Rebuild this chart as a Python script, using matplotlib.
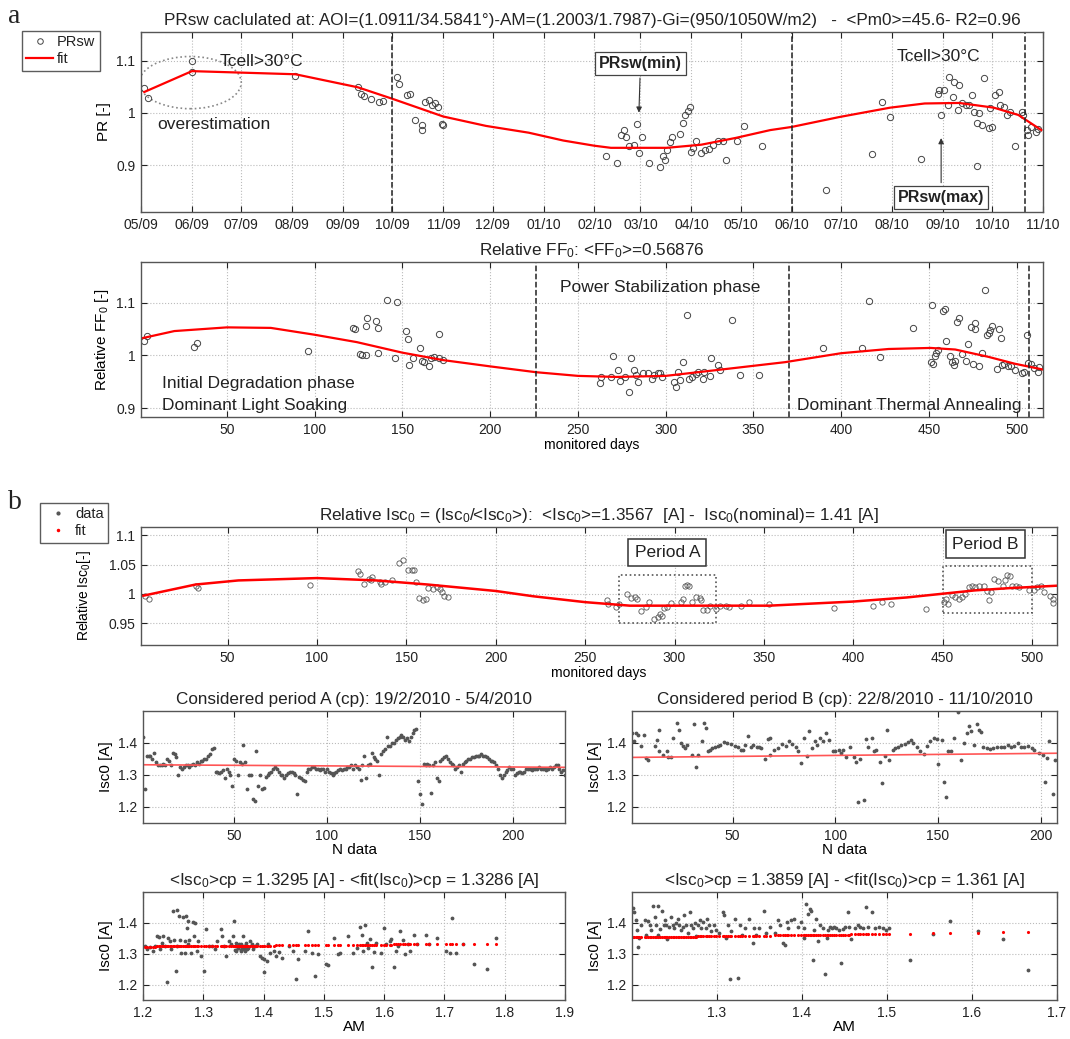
import numpy as np
import matplotlib
matplotlib.use("Agg")
import matplotlib.pyplot as plt
import matplotlib.dates as mdates
from matplotlib.patches import Ellipse, Rectangle
from matplotlib.lines import Line2D
from matplotlib.ticker import FuncFormatter

plt.rcParams['font.family'] = ['Liberation Sans', 'DejaVu Sans']
plt.rcParams['mathtext.fontset'] = 'custom'
plt.rcParams['mathtext.rm'] = 'Liberation Sans'
plt.rcParams['mathtext.it'] = 'Liberation Sans:italic'
plt.rcParams['mathtext.bf'] = 'Liberation Sans:bold'
plt.rcParams['text.color'] = '#222222'

# ---------------- panel a, top: PRsw vs date (days since 1 May 2009) ----------------
pr_days = [2, 4, 31, 31, 94, 132, 134, 136, 140, 145, 147, 156, 157, 162, 164, 167, 171, 171,
           173, 175, 177, 179, 181, 183, 184,
           283, 290, 292, 294, 295, 297, 300, 302, 303, 305, 309, 316, 318, 319, 320, 322, 323,
           328, 330, 331, 333, 334, 335, 336, 338, 341, 343, 346, 348, 351, 354, 356, 363, 367,
           378, 417, 445, 451, 456, 475, 485, 486, 487, 489, 491, 492, 494, 495, 497, 498, 500,
           502, 504, 506, 507, 509, 509, 510, 512, 513, 516, 517, 518, 520, 522, 523, 525, 527,
           529, 532, 536, 537, 539, 540, 542, 545, 546]
pr_vals = [1.048, 1.028, 1.099, 1.079, 1.071, 1.050, 1.037, 1.032, 1.026, 1.021, 1.022, 1.069,
           1.056, 1.034, 1.037, 0.986, 0.976, 0.967, 1.021, 1.024, 1.015, 1.018, 1.012, 0.979, 0.976,
           0.917, 0.904, 0.958, 0.967, 0.954, 0.936, 0.939, 0.978, 0.924, 0.954, 0.904, 0.896, 0.917,
           0.909, 0.928, 0.944, 0.954, 0.960, 0.981, 0.996, 1.003, 1.012, 0.925, 0.933, 0.946, 0.924,
           0.928, 0.931, 0.938, 0.946, 0.947, 0.909, 0.946, 0.974, 0.936, 0.853, 0.921, 1.021, 0.992,
           0.911, 1.037, 1.044, 0.996, 1.044, 1.015, 1.069, 1.031, 1.060, 1.005, 1.053, 1.018, 1.015,
           1.015, 1.034, 1.002, 0.981, 0.899, 0.999, 0.976, 1.066, 0.971, 1.010, 0.973, 1.035, 1.040,
           1.015, 1.012, 0.996, 1.002, 0.936, 1.002, 0.996, 0.967, 0.957, 0.973, 0.963, 0.970]
pr_fit_days = [2, 31, 94, 132, 153, 184, 210, 236, 257, 276, 286, 320, 341, 362, 383, 396, 425,
               456, 477, 498, 519, 534, 548]
pr_fit_vals = [1.040, 1.080, 1.074, 1.049, 1.027, 0.993, 0.975, 0.962, 0.947, 0.937, 0.933, 0.933,
               0.939, 0.952, 0.967, 0.973, 0.992, 1.010, 1.018, 1.019, 1.010, 0.996, 0.967]
pr_phase_days = [153, 396, 538]

# ---------------- panel a, bottom: relative FF0 vs monitored days ----------------
ff_days = [2.5, 4.5, 31, 33, 96,
           122, 123, 126, 127, 129, 129, 130, 135, 136, 136, 141, 146, 147, 152, 153, 154, 156,
           160, 161, 162, 165, 166, 168, 171, 171, 173,
           262.5, 263, 268.6, 270, 273, 274, 277, 279, 280, 282, 283, 284, 287, 290, 292, 293.5,
           295.5, 297, 298, 305, 305.7, 307, 308, 310, 312, 313, 315, 317, 318.6, 321, 322, 325,
           326, 330, 331, 338, 342.5, 353,
           389.5, 412, 416, 422, 441, 451, 452, 452.5, 453.5, 454, 455, 458, 459, 460, 462, 463,
           464, 465, 466, 467, 469, 471, 472.5, 474, 475, 476, 476, 478.5, 480, 482, 483, 484,
           485, 486, 489, 490, 491, 491.5, 493, 495, 497, 499, 503, 504, 506, 506.5, 508, 510,
           512, 513]
ff_vals = [1.028, 1.036, 1.015, 1.024, 1.008,
           1.051, 1.050, 1.003, 1.001, 1.001, 1.055, 1.071, 1.066, 1.051, 1.004, 1.104, 0.994,
           1.102, 1.046, 1.030, 0.982, 0.995, 1.013, 0.989, 0.988, 0.980, 0.995, 0.996, 1.041,
           0.995, 0.992,
           0.948, 0.958, 0.958, 0.999, 0.972, 0.952, 0.958, 0.930, 0.995, 0.972, 0.963, 0.950,
           0.966, 0.966, 0.956, 0.963, 0.966, 0.966, 0.958, 0.950, 0.940, 0.969, 0.953, 0.987,
           1.077, 0.956, 0.958, 0.964, 0.969, 0.955, 0.969, 0.960, 0.995, 0.982, 0.972, 1.067,
           0.962, 0.963,
           1.014, 1.014, 1.103, 0.996, 1.052, 0.987, 1.095, 0.984, 0.998, 1.004, 1.011, 1.084,
           1.087, 1.027, 0.998, 0.987, 0.982, 0.990, 1.063, 1.070, 1.003, 0.989, 1.022, 1.054,
           0.984, 1.062, 1.049, 0.980, 1.004, 1.124, 1.038, 1.043, 1.048, 1.055, 0.974, 1.050,
           1.032, 0.982, 0.984, 0.979, 0.979, 0.973, 0.966, 0.968, 1.039, 0.985, 0.984, 0.976,
           0.969, 0.977]
ff_fit_days = [1, 20, 50, 75, 100, 124, 150, 173, 200, 226, 250, 272, 300, 329, 368, 400, 427,
               451, 465, 484, 499, 515]
ff_fit_vals = [1.032, 1.046, 1.053, 1.052, 1.039, 1.025, 1.005, 0.991, 0.979, 0.968, 0.961, 0.959,
               0.961, 0.972, 0.987, 1.004, 1.012, 1.014, 1.011, 0.997, 0.984, 0.973]
ff_phase_days = [226, 370, 507]

# ---------------- panel b, top: relative Isc0 vs monitored days ----------------
isc_days = [4, 5.7, 32, 33.6, 96, 123, 124, 126, 129, 130, 131, 135, 136, 138, 142, 146, 148,
            151, 153, 154, 155.6, 157, 159, 161, 162, 165, 167, 169, 170, 171, 173,
            262, 263, 267, 269, 273.5, 275.5, 278, 279, 281, 284, 285.5, 288.6, 290.5, 292, 293,
            294, 296, 298, 303.5, 305, 306, 307, 308, 310, 312, 314, 315, 316, 318, 320, 323,
            325.7, 328.6, 330.5, 337, 341.7, 352.7, 389, 411, 416, 421, 440.5,
            451, 452, 453, 455.5, 457, 459, 460.6, 462.7, 464.7, 466.6, 468, 470.5, 473, 475,
            476, 477, 479, 481, 483.6, 485, 486, 487.5, 489, 491, 492.7, 498.5, 501, 503, 505,
            507, 510, 512, 512]
isc_vals = [0.997, 0.991, 1.014, 1.010, 1.015, 1.039, 1.034, 1.017, 1.026, 1.023, 1.029, 1.020,
            1.017, 1.020, 1.024, 1.053, 1.057, 1.041, 1.041, 1.041, 1.021, 0.993, 0.989, 0.991,
            1.010, 1.009, 1.011, 1.009, 1.003, 0.997, 0.994,
            0.990, 0.982, 0.978, 0.982, 1.000, 0.993, 0.995, 0.991, 0.971, 0.978, 0.986, 0.957,
            0.960, 0.965, 0.962, 0.976, 0.978, 0.984, 0.987, 0.991, 1.013, 1.015, 1.014, 0.986,
            0.994, 0.993, 0.989, 0.973, 0.973, 0.980, 0.974, 0.980, 0.980, 0.978, 0.980, 0.987,
            0.982, 0.976, 0.980, 0.986, 0.983, 0.974,
            0.986, 0.991, 0.982, 0.999, 0.994, 0.991, 0.995, 1.000, 1.011, 1.013, 1.011, 1.014,
            1.014, 1.005, 0.989, 1.003, 1.026, 1.022, 1.014, 1.023, 1.033, 1.031, 1.014, 1.014,
            1.011, 1.006, 1.007, 1.011, 1.014, 1.003, 0.997, 0.991, 0.984]
isc_fit_days = [2.8, 32, 56, 100, 133, 162, 200, 221, 250, 275, 300, 326, 353, 400, 430, 449,
                468, 488, 514]
isc_fit_vals = [0.997, 1.016, 1.023, 1.027, 1.023, 1.016, 1.005, 0.996, 0.986, 0.980, 0.980, 0.980,
                0.980, 0.987, 0.994, 1.000, 1.006, 1.010, 1.014]
period_a_days = (269, 323)
period_a_range = (0.951, 1.033)
period_b_days = (450, 500)
period_b_range = (0.967, 1.047)

# ---------------- panel b, middle: Isc0 samples inside each period ----------------
isc_a = [1.42, 1.255,
         1.36, 1.36, 1.36, 1.35, 1.37,
         1.34, 1.33, 1.33, 1.33, 1.335,
         1.33, 1.35, 1.345, 1.33,
         1.37, 1.365, 1.355,
         1.30, 1.325, 1.32,
         1.325, 1.33, 1.33, 1.325, 1.33, 1.335, 1.33, 1.34, 1.335, 1.345, 1.345, 1.35, 1.35,
         1.36, 1.365, 1.38, 1.385,
         1.31, 1.31, 1.305, 1.31, 1.315, 1.29,
         1.32, 1.31, 1.30, 1.265, 1.35,
         1.345, 1.30, 1.34, 1.335, 1.395,
         1.34, 1.255, 1.30, 1.30, 1.225,
         1.22, 1.375, 1.265, 1.30, 1.255,
         1.26, 1.295, 1.30, 1.305, 1.31,
         1.32, 1.325, 1.32, 1.31, 1.30, 1.30, 1.29, 1.30, 1.305, 1.31,
         1.31, 1.305, 1.30, 1.24, 1.295, 1.29, 1.285, 1.28, 1.31, 1.32,
         1.32, 1.325, 1.325, 1.32, 1.32, 1.315, 1.32, 1.32, 1.31, 1.32,
         1.31, 1.305, 1.30, 1.305, 1.31, 1.315, 1.32, 1.315, 1.32, 1.32,
         1.325, 1.325, 1.33, 1.32, 1.33, 1.325, 1.32, 1.285, 1.33, 1.36,
         1.29, 1.33, 1.335, 1.37, 1.355, 1.35, 1.345, 1.30, 1.365, 1.375,
         1.38, 1.42, 1.39, 1.39, 1.40, 1.40, 1.41, 1.415, 1.42, 1.425,
         1.42, 1.41, 1.415, 1.405, 1.42, 1.43, 1.44, 1.445, 1.28, 1.24,
         1.21, 1.335, 1.33, 1.335, 1.33, 1.245, 1.33, 1.34, 1.29, 1.28,
         1.345, 1.35, 1.355, 1.36, 1.35, 1.34, 1.335, 1.33, 1.32, 1.325,
         1.33, 1.31, 1.335, 1.34, 1.345, 1.35, 1.35, 1.355, 1.355, 1.36,
         1.36, 1.36, 1.365, 1.36, 1.36, 1.355, 1.35, 1.345, 1.345, 1.34,
         1.33, 1.32, 1.30, 1.29, 1.30, 1.31, 1.315, 1.325, 1.32, 1.32,
         1.30, 1.305, 1.31, 1.31, 1.305, 1.31, 1.32, 1.32, 1.32, 1.315,
         1.32, 1.32, 1.32, 1.325, 1.32, 1.32, 1.32, 1.315, 1.32, 1.325,
         1.32, 1.325, 1.33, 1.33, 1.32, 1.31, 1.315, 1.30]
fit_a_ends = (1.332, 1.324)

idx_b = [1, 2, 3, 4, 5.4, 7, 8, 9, 12, 13, 14, 14, 16, 18, 18.7, 20, 21, 23, 24, 25, 26, 27, 28,
         30, 31, 32, 33, 35, 36, 37, 38, 39, 40, 41.6, 43, 44, 46, 47.5, 49, 51, 52.5, 54, 55, 56,
         57.5, 59, 60, 62, 63, 64, 66, 67, 68, 68.4, 70.4, 72, 74, 76, 77.6, 79, 81, 82, 83.5, 85,
         86, 87, 88.5, 90, 91, 92.7, 94, 95.6, 97, 99, 100, 101.6, 103, 104, 105, 107, 109, 110,
         111, 112, 114, 115, 116, 118, 118.7, 120, 122, 123, 124, 125, 126, 128, 129, 130.4, 132,
         134, 135.4, 136.8, 138, 139.6, 141.3, 143, 144.6, 146.3, 148, 149.7, 150, 151.8, 153, 154,
         154.7, 156.4, 158, 159.7, 161, 162.6, 164, 165, 166, 167.6, 169, 170, 171, 172, 174,
         175.6, 177, 179, 180.6, 182, 184, 185.7, 187, 189, 190.7, 192, 194, 195.7, 197, 199, 201,
         202, 203, 204, 206, 207]
isc_b = [1.43, 1.405, 1.43, 1.426, 1.39, 1.426, 1.353, 1.347, 1.39, 1.41, 1.44, 1.374, 1.363,
         1.374, 1.356, 1.356, 1.416, 1.463, 1.442, 1.40, 1.39, 1.384, 1.395, 1.363, 1.458, 1.324,
         1.363, 1.405, 1.463, 1.447, 1.376, 1.379, 1.384, 1.387, 1.392, 1.395, 1.402, 1.40, 1.398,
         1.392, 1.387, 1.379, 1.379, 1.395, 1.423, 1.389, 1.395, 1.389, 1.387, 1.384, 1.349,
         1.413, 1.416, 1.363, 1.379, 1.384, 1.398, 1.392, 1.405, 1.398, 1.389, 1.374, 1.337,
         1.416, 1.36, 1.437, 1.384, 1.405, 1.395, 1.416, 1.405, 1.432, 1.41, 1.374, 1.376, 1.377,
         1.368, 1.379, 1.356, 1.387, 1.356, 1.342, 1.216, 1.349, 1.221, 1.413, 1.389, 1.416,
         1.374, 1.377, 1.342, 1.274, 1.36, 1.442, 1.347, 1.379, 1.384, 1.389, 1.395, 1.398,
         1.402, 1.408, 1.40, 1.387, 1.374, 1.366, 1.392, 1.405, 1.416, 1.413, 1.334, 1.41, 1.279,
         1.232, 1.374, 1.374, 1.416, 1.498, 1.347, 1.40, 1.432, 1.453, 1.437, 1.395, 1.458,
         1.442, 1.434, 1.389, 1.384, 1.381, 1.384, 1.387, 1.389, 1.389, 1.395, 1.387, 1.392,
         1.40, 1.389, 1.387, 1.392, 1.384, 1.379, 1.37, 1.363, 1.279, 1.353, 1.405, 1.242, 1.347]
fit_b_ends = (1.355, 1.368)

# ---------------- panel b, bottom: Isc0 vs air mass ----------------
am_a = [1.203, 1.206, 1.211, 1.217, 1.22, 1.223, 1.226, 1.229, 1.231, 1.234, 1.236, 1.24, 1.241,
        1.245, 1.247, 1.249, 1.251, 1.254, 1.256, 1.257, 1.26, 1.262, 1.263, 1.266, 1.269, 1.27,
        1.271, 1.273, 1.274, 1.275, 1.277, 1.28, 1.283, 1.285, 1.287, 1.289, 1.291, 1.297, 1.301,
        1.304, 1.309, 1.314, 1.319, 1.323, 1.329, 1.331, 1.334, 1.337, 1.342, 1.346, 1.349, 1.351,
        1.354, 1.357, 1.36, 1.363, 1.366, 1.367, 1.369, 1.371, 1.374, 1.377, 1.38, 1.383, 1.386,
        1.389, 1.394, 1.397, 1.4, 1.401, 1.405, 1.407, 1.411, 1.417, 1.42, 1.426, 1.431, 1.443,
        1.449, 1.454, 1.457, 1.469, 1.473, 1.48, 1.486, 1.491, 1.503, 1.507, 1.517, 1.523, 1.526,
        1.54, 1.549, 1.555, 1.56, 1.563, 1.565, 1.569, 1.571, 1.574, 1.577, 1.58, 1.583, 1.586,
        1.594, 1.599, 1.603, 1.609, 1.611, 1.616, 1.62, 1.623, 1.627, 1.631, 1.635, 1.639, 1.643,
        1.649, 1.654, 1.669, 1.674, 1.687, 1.703, 1.709, 1.713, 1.719, 1.731, 1.749, 1.771, 1.786,
        1.36, 1.363, 1.369, 1.354, 1.367, 1.352, 1.358, 1.362, 1.365, 1.372]
isc_am_a = [1.324, 1.314, 1.322, 1.308, 1.324, 1.356, 1.353, 1.314, 1.335, 1.356, 1.324, 1.208,
            1.351, 1.34, 1.314, 1.438, 1.346, 1.245, 1.441, 1.324, 1.422, 1.346, 1.303, 1.42, 1.34,
            1.303, 1.422, 1.383, 1.33, 1.407, 1.346, 1.303, 1.404, 1.359, 1.398, 1.308, 1.34,
            1.293, 1.245, 1.379, 1.326, 1.324, 1.314, 1.34, 1.379, 1.356, 1.324, 1.293, 1.34,
            1.33, 1.356, 1.406, 1.335, 1.319, 1.33, 1.312, 1.356, 1.324, 1.308, 1.335, 1.319,
            1.34, 1.33, 1.314, 1.326, 1.333, 1.293, 1.287, 1.282, 1.24, 1.277, 1.33, 1.303, 1.308,
            1.293, 1.305, 1.287, 1.324, 1.308, 1.219, 1.282, 1.308, 1.375, 1.301, 1.229, 1.298,
            1.266, 1.263, 1.351, 1.298, 1.303, 1.356, 1.303, 1.319, 1.388, 1.361, 1.308, 1.393,
            1.335, 1.319, 1.348, 1.256, 1.305, 1.335, 1.303, 1.383, 1.33, 1.34, 1.348, 1.256,
            1.308, 1.324, 1.375, 1.346, 1.298, 1.33, 1.308, 1.361, 1.333, 1.361, 1.33, 1.351,
            1.308, 1.301, 1.416, 1.301, 1.33, 1.266, 1.252, 1.351,
            1.324, 1.33, 1.326, 1.308, 1.316, 1.312, 1.318, 1.31, 1.322, 1.315]
fit_am_a = ((1.2, 1.323), (1.8, 1.333))

am_b = [1.201, 1.203, 1.205, 1.206, 1.207, 1.209, 1.211, 1.215, 1.217, 1.219, 1.221, 1.223,
        1.225, 1.227, 1.229, 1.231, 1.231, 1.233, 1.235, 1.238, 1.239, 1.24, 1.242, 1.244, 1.246,
        1.248, 1.25, 1.252, 1.254, 1.256, 1.258, 1.26, 1.262, 1.264, 1.266, 1.268, 1.27, 1.272,
        1.274, 1.276, 1.278, 1.28, 1.282, 1.284, 1.287, 1.289, 1.291, 1.293, 1.297, 1.299, 1.303,
        1.307, 1.309, 1.311, 1.313, 1.316, 1.317, 1.321, 1.325, 1.327, 1.33, 1.333, 1.338, 1.342,
        1.344, 1.346, 1.35, 1.356, 1.358, 1.362, 1.368, 1.372, 1.374, 1.378, 1.38, 1.382, 1.384,
        1.387, 1.391, 1.395, 1.399, 1.402, 1.403, 1.405, 1.407, 1.409, 1.411, 1.413, 1.414, 1.417,
        1.419, 1.421, 1.425, 1.427, 1.429, 1.431, 1.433, 1.436, 1.438, 1.44, 1.444, 1.446, 1.448,
        1.451, 1.454, 1.456, 1.458, 1.462, 1.466, 1.468, 1.472, 1.476, 1.478, 1.482, 1.486, 1.491,
        1.495, 1.499, 1.503, 1.527, 1.554, 1.574, 1.607, 1.636, 1.666]
isc_am_b = [1.447, 1.435, 1.409, 1.378, 1.323, 1.352, 1.393, 1.409, 1.362, 1.406, 1.393, 1.378,
            1.455, 1.419, 1.393, 1.455, 1.36, 1.381, 1.44, 1.393, 1.409, 1.393, 1.347, 1.388,
            1.419, 1.393, 1.383, 1.398, 1.414, 1.393, 1.378, 1.388, 1.424, 1.393, 1.367, 1.435,
            1.393, 1.383, 1.398, 1.357, 1.393, 1.409, 1.383, 1.404, 1.383, 1.414, 1.393, 1.373,
            1.393, 1.378, 1.367, 1.435, 1.424, 1.352, 1.393, 1.217, 1.373, 1.414, 1.222, 1.393,
            1.362, 1.383, 1.414, 1.336, 1.383, 1.362, 1.383, 1.44, 1.367, 1.388, 1.367, 1.409,
            1.393, 1.336, 1.329, 1.404, 1.383, 1.409, 1.414, 1.388, 1.404, 1.352, 1.383, 1.461,
            1.43, 1.445, 1.44, 1.279, 1.378, 1.414, 1.341, 1.393, 1.383, 1.233, 1.352, 1.378,
            1.388, 1.383, 1.388, 1.383, 1.378, 1.269, 1.381, 1.388, 1.435, 1.388, 1.347, 1.383,
            1.393, 1.388, 1.383, 1.45, 1.385, 1.435, 1.383, 1.388, 1.383, 1.378, 1.383, 1.279,
            1.364, 1.406, 1.375, 1.347, 1.246]
fit_am_b = ((1.2, 1.353), (1.67, 1.37))

PT_COLOR = '#555555'
FIG_W, FIG_H = 1070, 1039
TITLE_FS = 12.3
ANNOT_FS = 12.5


def px_axes(fig, left, top, right, bottom):
    return fig.add_axes([left / FIG_W, 1 - bottom / FIG_H,
                         (right - left) / FIG_W, (bottom - top) / FIG_H])


def style(ax, fmt_y=True):
    ax.grid(True, ls=':', color='#bbbbbb', lw=0.8)
    ax.set_axisbelow(True)
    ax.tick_params(direction='in', top=True, right=True, length=4, width=0.8,
                   labelsize=10, colors='#222222', pad=4)
    for s in ax.spines.values():
        s.set_color('#555555')
        s.set_linewidth(1.0)
    if fmt_y:
        ax.yaxis.set_major_formatter(FuncFormatter(lambda v, p: f'{v:g}'))


def line_on(xs, ends):
    # straight fit line evaluated at given abscissae
    (x0, y0), (x1, y1) = ends
    xs = np.asarray(xs, dtype=float)
    return y0 + (y1 - y0) * (xs - x0) / (x1 - x0)


fig = plt.figure(figsize=(FIG_W / 100, FIG_H / 100), dpi=100)

# ---------- a1: PRsw ----------
base = mdates.date2num(np.datetime64('2009-05-01'))
ax = px_axes(fig, 141, 32, 1043, 212)
style(ax)
ax.plot(base + np.array(pr_days), pr_vals, 'o', ms=4.5, mfc='none', mec='#444444', mew=0.7)
ax.plot(base + np.array(pr_fit_days), pr_fit_vals, '-', color='red', lw=1.6)
for d in pr_phase_days:
    ax.axvline(base + d, color='#222222', ls='--', lw=1.1)
ax.set_xlim(base, mdates.date2num(np.datetime64('2010-11-01')))
ax.set_ylim(0.81, 1.155)
ax.set_yticks([0.9, 1.0, 1.1])
ax.xaxis.set_major_locator(mdates.MonthLocator())
ax.xaxis.set_major_formatter(mdates.DateFormatter('%m/%y'))
ax.set_ylabel('PR [-]', fontsize=11)
ax.set_title('PRsw caclulated at: AOI=(1.0911/34.5841°)-AM=(1.2003/1.7987)-Gi=(950/1050W/m2)'
             '   -  <Pm0>=45.6- R2=0.96', fontsize=TITLE_FS, pad=5)
ax.add_patch(Ellipse((base + 30, 1.058), 62, 0.10, fill=False, ls=':', ec='#888888', lw=1.2))
ax.text(base + 48, 1.099, 'Tcell>30°C', fontsize=ANNOT_FS, va='center')
ax.text(base + 10, 0.977, 'overestimation', fontsize=ANNOT_FS, va='center')
ax.text(base + 460, 1.108, 'Tcell>30°C', fontsize=ANNOT_FS, va='center')
box = dict(boxstyle='square,pad=0.25', fc='white', ec='#444444', lw=0.9)
arrow = dict(arrowstyle='-|>', color='#333333', lw=0.8, mutation_scale=8)
ax.annotate('PRsw(min)', xy=(base + 303, 0.995), xytext=(base + 304, 1.095), ha='center',
            va='center', fontsize=11.5, fontweight='bold', bbox=box, arrowprops=arrow)
ax.annotate('PRsw(max)', xy=(base + 487, 0.957), xytext=(base + 487, 0.838), ha='center',
            va='center', fontsize=11.5, fontweight='bold', bbox=box, arrowprops=arrow)
handles = [Line2D([], [], marker='o', ls='none', ms=4, mfc='none', mec='#444444', mew=0.7),
           Line2D([], [], color='red', lw=1.6)]
fig.legend(handles, ['PRsw', 'fit'], loc='upper left', bbox_to_anchor=(22 / FIG_W, 1 - 31 / FIG_H),
           fontsize=10.5, frameon=True, fancybox=False, edgecolor='#333333', handlelength=1.8,
           borderpad=0.3, labelspacing=0.2, handletextpad=0.3, borderaxespad=0)
fig.text(8 / FIG_W, 1 - 4 / FIG_H, 'a', family='Liberation Serif', fontsize=20, va='top')

# ---------- a2: relative FF0 ----------
ax = px_axes(fig, 141, 262, 1043, 417)
style(ax)
ax.plot(ff_days, ff_vals, 'o', ms=4.5, mfc='none', mec='#444444', mew=0.7)
ax.plot(ff_fit_days, ff_fit_vals, '-', color='red', lw=1.6)
for d in ff_phase_days:
    ax.axvline(d, color='#222222', ls='--', lw=1.1)
ax.set_xlim(1, 515)
ax.set_ylim(0.883, 1.177)
ax.set_xticks(range(50, 501, 50))
ax.set_yticks([0.9, 1.0, 1.1])
ax.set_xlabel('monitored days', fontsize=10, labelpad=1)
ax.set_ylabel('Relative FF$_0$ [-]', fontsize=11)
ax.set_title('Relative FF$_0$: <FF$_0$>=0.56876', fontsize=TITLE_FS, pad=5)
ax.text(13, 0.947, 'Initial Degradation phase', fontsize=ANNOT_FS, va='center')
ax.text(13, 0.905, 'Dominant Light Soaking', fontsize=ANNOT_FS, va='center')
ax.text(240, 1.128, 'Power Stabilization phase', fontsize=ANNOT_FS, va='center')
ax.text(375, 0.905, 'Dominant Thermal Annealing', fontsize=ANNOT_FS, va='center')

# ---------- b1: relative Isc0 ----------
ax = px_axes(fig, 141, 527, 1057, 645)
style(ax)
ax.plot(isc_days, isc_vals, 'o', ms=3.8, mfc='none', mec='#555555', mew=0.6)
ax.plot(isc_fit_days, isc_fit_vals, '-', color='red', lw=1.8)
ax.set_xlim(1.5, 514)
ax.set_ylim(0.913, 1.114)
ax.set_xticks(range(50, 501, 50))
ax.set_yticks([0.95, 1.0, 1.05, 1.1])
ax.set_xlabel('monitored days', fontsize=10, labelpad=1)
ax.set_ylabel('Relative Isc$_0$[-]', fontsize=10)
ax.yaxis.set_label_coords(-0.052, 0.42)
ax.set_title('Relative Isc$_0$ = (Isc$_0$/<Isc$_0$>):  <Isc$_0$>=1.3567  [A] -  '
             'Isc$_0$(nominal)= 1.41 [A]', fontsize=TITLE_FS, pad=5)
for (d0, d1), (v0, v1) in [(period_a_days, period_a_range), (period_b_days, period_b_range)]:
    ax.add_patch(Rectangle((d0, v0), d1 - d0, v1 - v0, fill=False, ls=':', ec='#555555', lw=1.2))
pbox = dict(boxstyle='square,pad=0.35', fc='white', ec='#333333', lw=1.1)
ax.text(sum(period_a_days) / 2, 1.071, 'Period A', fontsize=ANNOT_FS, ha='center', va='center',
        bbox=pbox)
ax.text(sum(period_b_days) / 2 - 1, 1.085, 'Period B', fontsize=ANNOT_FS, ha='center',
        va='center', bbox=pbox)
handles = [Line2D([], [], marker='.', ls='none', ms=4, color='#555555'),
           Line2D([], [], marker='.', ls='none', ms=3, color='red')]
fig.legend(handles, ['data', 'fit'], loc='upper left', bbox_to_anchor=(40 / FIG_W, 1 - 503 / FIG_H),
           fontsize=10.5, frameon=True, fancybox=False, edgecolor='#333333', handlelength=1.8,
           borderpad=0.3, labelspacing=0.2, handletextpad=0.3, borderaxespad=0)
fig.text(8 / FIG_W, 1 - 490 / FIG_H, 'b', family='Liberation Serif', fontsize=20, va='top')

# ---------- b2 / b3: Isc0 samples within each period ----------
for rect, xs, ys, ends, xmax, title in [
        ((143, 711, 565, 823), np.arange(1, len(isc_a) + 1), isc_a, fit_a_ends, 228,
         'Considered period A (cp): 19/2/2010 - 5/4/2010'),
        ((632, 711, 1057, 823), idx_b, isc_b, fit_b_ends, 208,
         'Considered period B (cp): 22/8/2010 - 11/10/2010')]:
    ax = px_axes(fig, *rect)
    style(ax)
    ax.plot(xs, ys, '.', ms=3.5, color=PT_COLOR)
    ax.plot([1, xmax], ends, '-', color='#ff5555', lw=1.2)
    ax.set_xlim(1, xmax)
    ax.set_ylim(1.15, 1.5)
    ax.set_xticks([50, 100, 150, 200])
    ax.set_yticks([1.2, 1.3, 1.4])
    ax.set_xlabel('N data', fontsize=11, labelpad=0)
    ax.set_ylabel('Isc0 [A]', fontsize=11)
    ax.set_title(title, fontsize=TITLE_FS, pad=5)

# ---------- b4 / b5: Isc0 vs air mass ----------
for rect, am, ys, ends, xlim, xt, title in [
        ((143, 892, 565, 1000), am_a, isc_am_a, fit_am_a, (1.2, 1.9),
         [1.2, 1.3, 1.4, 1.5, 1.6, 1.7, 1.8, 1.9],
         '<Isc$_0$>cp = 1.3295 [A] - <fit(Isc$_0$)>cp = 1.3286 [A]'),
        ((632, 892, 1057, 1000), am_b, isc_am_b, fit_am_b, (1.2003, 1.7),
         [1.3, 1.4, 1.5, 1.6, 1.7],
         '<Isc$_0$>cp = 1.3859 [A] - <fit(Isc$_0$)>cp = 1.361 [A]')]:
    ax = px_axes(fig, *rect)
    style(ax)
    ax.xaxis.set_major_formatter(FuncFormatter(lambda v, p: f'{v:g}'))
    ax.plot(am, ys, '.', ms=3.5, color=PT_COLOR)
    am_sorted = np.sort(np.asarray(am))
    ax.plot(am_sorted, line_on(am_sorted, ends), '.', ms=2.5, color='red')
    ax.set_xlim(*xlim)
    ax.set_ylim(1.15, 1.5)
    ax.set_xticks(xt)
    ax.set_yticks([1.2, 1.3, 1.4])
    ax.set_xlabel('AM', fontsize=11, labelpad=0)
    ax.set_ylabel('Isc0 [A]', fontsize=11)
    ax.set_title(title, fontsize=TITLE_FS, pad=5)

fig.savefig('out.png', dpi=100)
